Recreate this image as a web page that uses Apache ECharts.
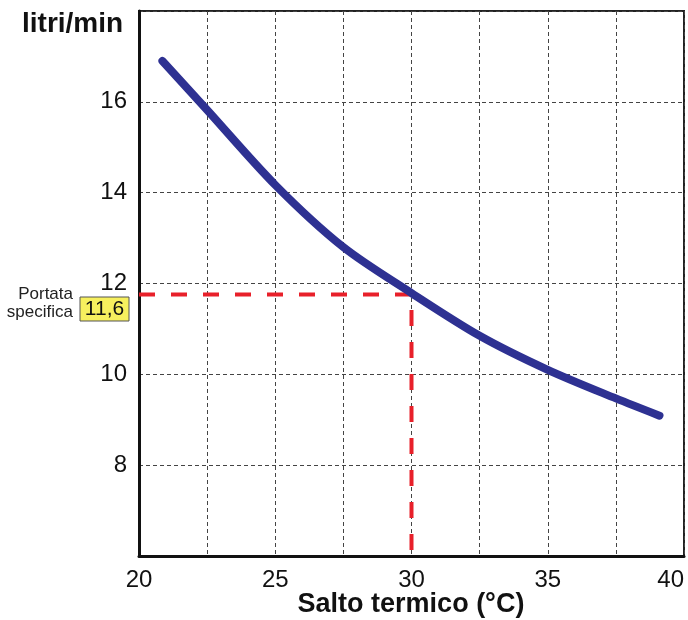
<!DOCTYPE html>
<html>
<head>
<meta charset="utf-8">
<script src="https://cdn.jsdelivr.net/npm/echarts@6/dist/echarts.min.js"></script>
<style>html,body{margin:0;padding:0;background:#fff;}#c{width:688px;height:620px;}</style>
</head>
<body>
<div id="c"></div>
<script>
const curveX = [20.86, 22.5, 25, 27.5, 30, 32.5, 35, 37.5, 39.1];
const curveY = [16.9, 15.82, 14.17, 12.8, 11.79, 10.85, 10.1, 9.47, 9.09];
const refX = [20, 30, 30];
const refY = [11.76, 11.76, 6];
const refLabel = '11,6';
const xTickLabels = [20, 25, 30, 35, 40];
const yTickLabels = [8, 10, 12, 14, 16];
const xTitle = 'Salto termico (°C)';
const yTitle = 'litri/min';

const FONT = '"Liberation Sans", Arial, sans-serif';
const chart = echarts.init(document.getElementById('c'));
chart.setOption({
  animation: false,
  backgroundColor: '#fff',
  grid: { left: 139, right: 4, top: 11, bottom: 64, outerBoundsMode: 'none', containLabel: false,
          show: true, borderColor: '#222', borderWidth: 2, backgroundColor: 'transparent' },
  xAxis: {
    type: 'value', min: 20, max: 40, interval: 2.5,
    axisLine: { show: true, lineStyle: { color: '#111', width: 3 } },
    axisTick: { show: false },
    axisLabel: {
      color: '#111', fontSize: 24, fontFamily: FONT, margin: 12, alignMaxLabel: 'right',
      formatter: v => xTickLabels.includes(v) ? String(v) : ''
    },
    splitLine: { show: true, lineStyle: { color: '#444', width: 1, type: [4, 3] } }
  },
  yAxis: {
    type: 'value', min: 6, max: 18, interval: 2,
    axisLine: { show: true, lineStyle: { color: '#111', width: 3 } },
    axisTick: { show: false },
    axisLabel: {
      color: '#111', fontSize: 24, fontFamily: FONT, margin: 12,
      formatter: v => yTickLabels.includes(v) ? String(v) : ''
    },
    splitLine: { show: true, lineStyle: { color: '#444', width: 1, type: [4, 3] } }
  },
  graphic: [
    { type: 'text', left: 22, top: 10, style: { text: yTitle, fill: '#111', font: 'bold 28px ' + FONT } },
    { type: 'text', x: 411, y: 605, style: { text: xTitle, fill: '#111', font: 'bold 27px ' + FONT, textAlign: 'center', textVerticalAlign: 'middle' } },
    { type: 'text', x: 73, y: 294, style: { text: 'Portata', fill: '#222', font: '17px ' + FONT, textAlign: 'right', textVerticalAlign: 'middle' } },
    { type: 'text', x: 73, y: 312, style: { text: 'specifica', fill: '#222', font: '17px ' + FONT, textAlign: 'right', textVerticalAlign: 'middle' } },
    { type: 'rect', shape: { x: 80, y: 297, width: 49, height: 24 }, style: { fill: '#f7f05e', stroke: '#555', lineWidth: 1 } },
    { type: 'text', x: 104.5, y: 309.5, style: { text: refLabel, fill: '#111', font: '21px ' + FONT, textAlign: 'center', textVerticalAlign: 'middle' } }
  ],
  series: [
    {
      type: 'line', data: refX.map((x, i) => [x, refY[i]]), symbol: 'none', z: 2,
      lineStyle: { color: '#e8202a', width: 4, type: [16, 16] }
    },
    {
      type: 'line', data: curveX.map((x, i) => [x, curveY[i]]), symbol: 'none', smooth: 0.3, z: 3,
      lineStyle: { color: '#2e3192', width: 8, cap: 'round' }
    }
  ]
});
</script>
</body>
</html>
